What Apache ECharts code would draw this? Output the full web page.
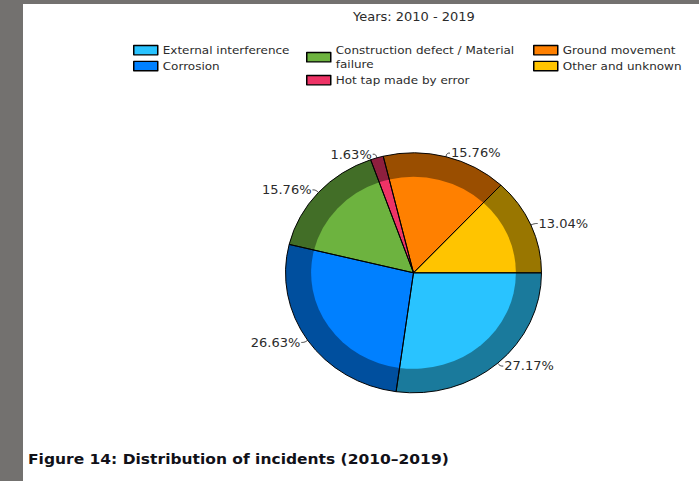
<!DOCTYPE html>
<html>
<head>
<meta charset="utf-8">
<script src="https://cdn.jsdelivr.net/npm/echarts@6/dist/echarts.min.js"></script>
<style>
  html, body { margin: 0; padding: 0; width: 699px; height: 481px; overflow: hidden; background: #73716f; }
  #sheet { position: absolute; left: 23px; top: 4px; width: 676px; height: 477px; background: #ffffff; }
  /* the drawing is laid out taller and flattened, so the pie comes out slightly oval */
  #chart { position: absolute; left: 0; top: 0; width: 699px; height: 513px;
           transform: scaleY(0.9375); transform-origin: 0 0; }
</style>
</head>
<body>
<div id="sheet"></div>
<div id="chart"></div>
<script>
// Incident causes and their share of all incidents (%)
const causes = [
  'External interference',
  'Corrosion',
  'Construction defect / Material failure',
  'Hot tap made by error',
  'Ground movement',
  'Other and unknown'
];
const shares = [27.17, 26.63, 15.76, 1.63, 15.76, 13.04];

// Slice face colours and the darker rim shade of each
const faceColors = ['#29c3ff', '#0080ff', '#6db33f', '#ee3366', '#ff8000', '#ffc400'];
const rimColors  = ['#1a7a9c', '#004f9e', '#426e27', '#8e1f3e', '#9a4e00', '#997600'];

// Which causes sit in each legend column
const legendColumns = [[0, 1], [2, 3], [4, 5]];
const legendLefts = [133, 306, 533];

const subtitle = 'Years: 2010 - 2019';
const caption = 'Figure 14: Distribution of incidents (2010\u20132019)';

const FONT = 'DejaVu Sans';
const TEXT = '#2b2b2b';
const CENTER = [413.5, 291];
const R = 128;

function sliceData(colors) {
  return causes.map((name, i) => ({ name, value: shares[i], itemStyle: { color: colors[i] } }));
}

const chart = echarts.init(document.getElementById('chart'), null, { renderer: 'svg' });

chart.setOption({
  animation: false,
  backgroundColor: 'transparent',
  textStyle: { fontFamily: FONT },
  title: [
    {
      text: subtitle,
      left: 353, top: 11.5, padding: 0,
      textStyle: { fontFamily: FONT, fontSize: 13, fontWeight: 'normal', color: TEXT }
    },
    {
      text: caption,
      left: 28, top: 482, padding: 0,
      textStyle: { fontFamily: FONT, fontSize: 15.5, fontWeight: 'bold', color: '#111118' }
    }
  ],
  legend: legendColumns.map((col, k) => ({
    orient: 'vertical',
    left: legendLefts[k],
    top: 46,
    padding: 0,
    itemWidth: 24,
    itemHeight: 10,
    itemGap: 2,
    icon: 'rect',
    selectedMode: false,
    data: col.map(i => causes[i]),
    formatter: name => name === causes[2] ? 'Construction defect / Material\nfailure' : name,
    itemStyle: { borderColor: '#000', borderWidth: 1.5 },
    textStyle: { fontFamily: FONT, fontSize: 12, color: TEXT, lineHeight: 15 }
  })),
  series: [
    {
      // light face of each slice
      name: 'face',
      type: 'pie',
      center: CENTER,
      radius: [0, R * 0.8],
      startAngle: 0,
      clockwise: true,
      z: 3,
      silent: true,
      label: { show: false },
      labelLine: { show: false },
      itemStyle: { borderWidth: 0 },
      emphasis: { disabled: true },
      data: sliceData(faceColors)
    },
    {
      // darker rim
      name: 'rim',
      type: 'pie',
      center: CENTER,
      radius: [0, R],
      startAngle: 0,
      clockwise: true,
      z: 2,
      silent: true,
      label: { show: false },
      labelLine: { show: false },
      itemStyle: { borderWidth: 0 },
      emphasis: { disabled: true },
      data: sliceData(rimColors)
    },
    {
      // slice outlines and percentage labels
      name: 'outline',
      type: 'pie',
      center: CENTER,
      radius: [0, R],
      startAngle: 0,
      clockwise: true,
      z: 4,
      silent: true,
      emphasis: { disabled: true },
      itemStyle: { color: 'rgba(0,0,0,0)', borderColor: '#000', borderWidth: 1 },
      label: {
        show: true,
        position: 'outside',
        formatter: '{c}%',
        fontFamily: FONT,
        fontSize: 13,
        color: TEXT,
        distanceToLabelLine: 1
      },
      labelLine: {
        show: true,
        length: 4,
        length2: 3,
        smooth: 0.4,
        lineStyle: { color: '#333', width: 1 }
      },
      data: causes.map((name, i) => ({ name, value: shares[i] }))
    }
  ]
});
</script>
</body>
</html>
